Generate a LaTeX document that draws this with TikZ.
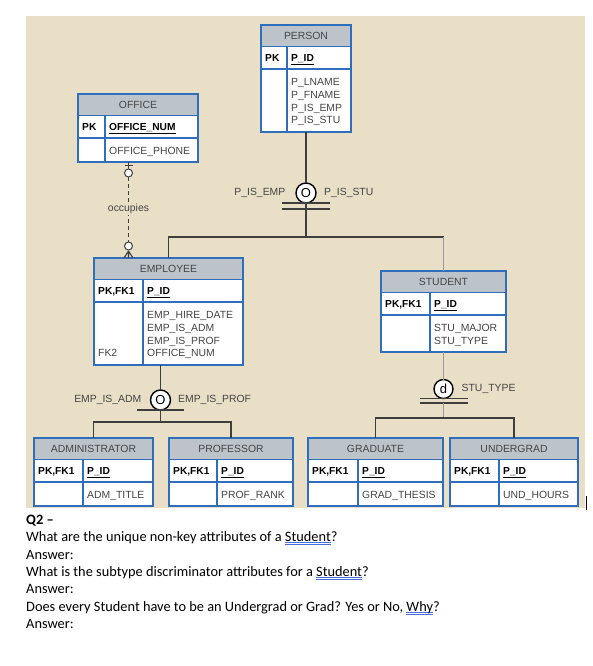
\documentclass[tikz,border=0pt]{standalone}
\usepackage{fontspec}
\usepackage{xcolor}
\usepackage{tikz}
\usetikzlibrary{positioning,calc}

\newfontfamily\erfont{Liberation Sans}
\newfontfamily\qfont{Carlito}

\definecolor{bgbeige}{RGB}{233,223,199}
\definecolor{hdrgray}{RGB}{188,196,202}
\definecolor{erblue}{RGB}{46,110,188}
\definecolor{linegray}{RGB}{62,62,62}
\definecolor{txtgray}{RGB}{68,68,68}
\definecolor{spellblue}{RGB}{70,110,220}

\tikzset{
  entbox/.style={rectangle, draw=erblue, line width=1.1pt, fill=white, inner sep=0pt, outer sep=0pt},
  hdrrow/.style={fill=hdrgray, draw=erblue, line width=1.1pt},
  erline/.style={draw=erblue, line width=1.1pt},
  ttl/.style={font=\erfont\fontsize{10.4}{12}\selectfont, text=txtgray, inner sep=0pt},
  keytxt/.style={font=\erfont\bfseries\fontsize{10.2}{12}\selectfont, text=black, inner sep=0pt, anchor=base west},
  attr/.style={font=\erfont\fontsize{10.4}{12.7}\selectfont, text=txtgray, inner sep=0pt, anchor=north west, align=left},
  conn/.style={draw=linegray, line width=1.1pt},
  thinconn/.style={draw=black!40, line width=0.7pt},
  subc/.style={circle, draw=black, line width=1.4pt, fill=white, minimum size=20pt, inner sep=0pt, outer sep=0pt, font=\erfont\fontsize{13}{13}\selectfont},
  relc/.style={circle, draw=linegray, line width=1pt, fill=white, minimum size=8pt, inner sep=0pt, outer sep=0pt},
  lbl/.style={font=\erfont\fontsize{10.4}{12}\selectfont, text=txtgray, inner sep=0pt},
  qline/.style={font=\qfont\fontsize{14.35}{17.5}\selectfont, anchor=base west, inner sep=0pt}
}

% entity table: name, left, top, width, height, divider offset, title, key, primary key
\newcommand{\erent}[9]{%
  \node[entbox, minimum width=#4, minimum height=#5, anchor=north west] (#1) at (#2,#3) {};
  \filldraw[hdrrow] (#1.north west) rectangle ($(#1.north east)+(0,21.5)$);
  \draw[erline] ($(#1.north west)+(0,44)$) -- ($(#1.north east)+(0,44)$);
  \draw[erline] ($(#1.north west)+(#6,21.5)$) -- ($(#1.south west)+(#6,0)$);
  \node[ttl] (#1-ttl) at ($(#1.north)+(0,10.75)$) {#7};
  \node[keytxt] (#1-key) at ($(#1.north west)+(4,36.5)$) {#8};
  \node[keytxt] (#1-pk) at ($(#1.north west)+(#6+4,36.5)$) {\underline{#9}};
  \coordinate (#1-col) at ($(#1.north west)+(#6+4,53.3)$);
}

\newcommand{\squig}[1]{\leavevmode\setbox0\hbox{#1}%
  \rlap{\textcolor{spellblue}{\rule[-1.6pt]{\wd0}{0.7pt}}}%
  \rlap{\textcolor{spellblue}{\rule[-3.6pt]{\wd0}{0.7pt}}}\box0}

\begin{document}
\begin{tikzpicture}[x=1pt,y=-1pt]
\useasboundingbox (0,0) rectangle (592,666);
\fill[bgbeige] (26,16) rectangle (585,508);

% entities
\erent{person}{261}{25}{90}{107}{26}{PERSON}{PK}{P\_ID}
\node[attr] (person-att) at (person-col) {P\_LNAME\\P\_FNAME\\P\_IS\_EMP\\P\_IS\_STU};

\erent{office}{78}{94}{120}{68}{27}{OFFICE}{PK}{OFFICE\_NUM}
\node[attr] (office-att) at (office-col) {OFFICE\_PHONE};

\erent{employee}{94}{258}{149}{107}{49}{EMPLOYEE}{PK,FK1}{P\_ID}
\node[attr] (employee-att) at (employee-col) {EMP\_HIRE\_DATE\\EMP\_IS\_ADM\\EMP\_IS\_PROF\\OFFICE\_NUM};
\node[attr, anchor=base west] (employee-fk) at ($(employee.north west)+(4,98.6)$) {FK2};

\erent{student}{381}{271}{125}{81}{49}{STUDENT}{PK,FK1}{P\_ID}
\node[attr] (student-att) at (student-col) {STU\_MAJOR\\STU\_TYPE};

\erent{administrator}{34}{438}{119}{68}{49}{ADMINISTRATOR}{PK,FK1}{P\_ID}
\node[attr] (administrator-att) at (administrator-col) {ADM\_TITLE};
\erent{professor}{169}{438}{124}{68}{48}{PROFESSOR}{PK,FK1}{P\_ID}
\node[attr] (professor-att) at (professor-col) {PROF\_RANK};
\erent{graduate}{308}{438}{135}{68}{50}{GRADUATE}{PK,FK1}{P\_ID}
\node[attr] (graduate-att) at (graduate-col) {GRAD\_THESIS};
\erent{undergrad}{450}{438}{128}{68}{49}{UNDERGRAD}{PK,FK1}{P\_ID}
\node[attr] (undergrad-att) at (undergrad-col) {UND\_HOURS};

% person subtypes
\node[subc] (psub) at (306,193) {O};
\node[lbl, left=10.5pt of psub] (pemp) {P\_IS\_EMP};
\node[lbl, right=8pt of psub] (pstu) {P\_IS\_STU};
\coordinate (pjoin) at (306,237);
\draw[conn] (person.south) -- (psub.north);
\draw[conn, line width=1.3pt] ($(psub.south)+(-24,0)$) -- ++(48,0);
\draw[conn, line width=1.3pt] ($(psub.south)+(-24,6)$) -- ++(48,0);
\draw[conn] (psub.south) -- (pjoin);
\draw[conn] (employee.north) |- (pjoin) -- (pjoin -| student.north);
\draw[thinconn] (pjoin -| student.north) -- (student.north);

% employee subtypes
\node[subc] (esub) at (160.5,400) {O};
\node[lbl, left=9pt of esub] (eadm) {EMP\_IS\_ADM};
\node[lbl, right=7.5pt of esub] (eprof) {EMP\_IS\_PROF};
\coordinate (ejoin) at (160.5,422);
\draw[conn] (employee.south -| esub) -- (esub.north);
\draw[conn, line width=1.3pt] ($(esub.south)+(-23.5,0)$) -- ++(47,0);
\draw[conn] (esub.south) -- (ejoin);
\draw[conn] (administrator.north) |- (ejoin) -| (professor.north);

% student subtypes
\node[subc, minimum size=19pt] (ssub) at (443.5,389) {d};
\node[lbl, right=8.5pt of ssub] (stype) {STU\_TYPE};
\coordinate (sjoin) at (443.5,418);
\draw[thinconn] (student.south) -- (ssub.north);
\draw[conn, line width=1.3pt] ($(ssub.south)+(-24,0)$) -- ++(48,0);
\draw[conn, line width=1.3pt] ($(ssub.south)+(-24,4.5)$) -- ++(48,0);
\draw[thinconn] ($(ssub.south)+(0,4.5)$) -- (sjoin);
\draw[conn] (graduate.north) |- (sjoin) -| (undergrad.north);

% occupies
\node[relc] (oc1) at (128.5,173) {};
\node[relc] (oc2) at (128.5,246) {};
\draw[conn] (office.south -| oc1) -- (oc1.north);
\draw[conn] ($(office.south -| oc1)+(-4,3.5)$) -- ++(8,0);
\draw[conn, dash pattern=on 4pt off 3pt] (oc1.south) -- (oc2.north);
\node[lbl, fill=bgbeige, inner sep=1.5pt] (occ) at (128.5,209) {occupies};
\draw[conn] ($(oc2.south)+(0,1)$) -- ($(employee.north -| oc2)+(-4.5,0)$)
            ($(oc2.south)+(0,1)$) -- (employee.north -| oc2)
            ($(oc2.south)+(0,1)$) -- ($(employee.north -| oc2)+(4.5,0)$);

\draw[line width=1pt] (586.5,496) -- (586.5,510);

% questions
\node[qline] (q0) at (26,524) {\textbf{Q2 –}};
\node[qline] (q1) at (26,541.5) {What are the unique non-key attributes of a \squig{Student}?};
\node[qline] (q2) at (26,559) {Answer:};
\node[qline] (q3) at (26,576.4) {What is the subtype discriminator attributes for a \squig{Student}?};
\node[qline] (q4) at (26,593.8) {Answer:};
\node[qline] (q5) at (26,611.2) {Does every Student have to be an Undergrad or Grad? Yes or No, \squig{Why}?};
\node[qline] (q6) at (26,628.7) {Answer:};
\end{tikzpicture}
\end{document}
